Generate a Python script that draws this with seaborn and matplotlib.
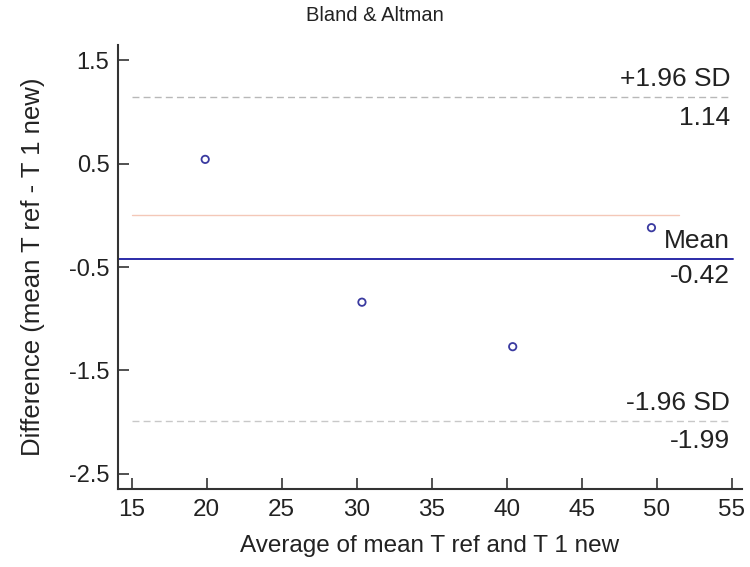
import matplotlib
matplotlib.use("Agg")
import matplotlib.pyplot as plt
import seaborn as sns
import pandas as pd
import numpy as np

# data
avg_values = [19.9, 30.35, 40.4, 49.65]
diff_values = [0.54, -0.84, -1.27, -0.12]
mean_diff = -0.42
upper_loa = 1.14
lower_loa = -1.99
x_ticks = [15, 20, 25, 30, 35, 40, 45, 50, 55]
y_ticks = [1.5, 0.5, -0.5, -1.5, -2.5]

sns.set_style("white")
plt.rcParams['font.family'] = ['Liberation Sans', 'DejaVu Sans']

fig = plt.figure(figsize=(7.5, 5.67), dpi=100)
ax = fig.add_axes([0.157, 0.1376, 0.832, 0.783])

df = pd.DataFrame({"avg": avg_values, "diff": diff_values})

ax.set_xlim(14.07, 55.67)
ax.set_ylim(-2.645, 1.645)

def frac(x):
    lo, hi = ax.get_xlim()
    return (x - lo) / (hi - lo)

# zero line
ax.axhline(0, xmin=frac(15), xmax=frac(51.5), color="#f4c8b8", lw=1.0, zorder=1)
# limits of agreement
ax.axhline(upper_loa, xmin=frac(15), xmax=frac(55), color="#b8b8b8", lw=1.0, ls=(0, (5, 3)), zorder=1)
ax.axhline(lower_loa, xmin=frac(15), xmax=frac(55), color="#c8c8c8", lw=1.0, ls=(0, (5, 3)), zorder=1)
# mean
ax.axhline(mean_diff, xmin=0, xmax=frac(55.1), color="#2b2ba8", lw=1.4, zorder=2)

sns.scatterplot(data=df, x="avg", y="diff", ax=ax, marker="o", s=28,
                facecolor="none", edgecolor="#3a3aa0", linewidth=1.3, zorder=3)

fs = 19
c = "#222222"
ax.text(54.9, upper_loa + 0.06, "+1.96 SD", ha="right", va="bottom", fontsize=fs, color=c)
ax.text(54.9, upper_loa - 0.08, f"{upper_loa:.2f}", ha="right", va="top", fontsize=fs, color=c)
ax.text(54.9, mean_diff + 0.06, "Mean", ha="right", va="bottom", fontsize=fs, color=c)
ax.text(54.9, mean_diff - 0.05, f"{mean_diff:.2f}", ha="right", va="top", fontsize=fs, color=c)
ax.text(54.9, lower_loa + 0.06, "-1.96 SD", ha="right", va="bottom", fontsize=fs, color=c)
ax.text(54.9, lower_loa - 0.08, f"{lower_loa:.2f}", ha="right", va="top", fontsize=fs, color=c)

ax.set_xticks(x_ticks)
ax.set_yticks(y_ticks)
ax.set_xticklabels([str(t) for t in x_ticks], fontsize=17.5, color=c)
ax.set_yticklabels([f"{t:g}" for t in y_ticks], fontsize=17, color=c)
ax.tick_params(axis="both", direction="in", length=8, width=1.2, color="#333333",
               bottom=True, left=True, top=False, right=False)
ax.tick_params(axis="x", pad=7)
ax.tick_params(axis="y", pad=6)

for s in ["top", "right"]:
    ax.spines[s].set_visible(False)
for s in ["left", "bottom"]:
    ax.spines[s].set_color("#333333")
    ax.spines[s].set_linewidth(1.5)

ax.set_xlabel("Average of mean T ref and T 1 new", fontsize=17.5, color=c, labelpad=10)
ax.set_ylabel("Difference (mean T ref - T 1 new)", fontsize=18.5, color=c, labelpad=17)
fig.text(0.5, 0.973, "Bland & Altman", ha="center", va="center", fontsize=14.5, color=c)

fig.savefig("out.png", dpi=100)
